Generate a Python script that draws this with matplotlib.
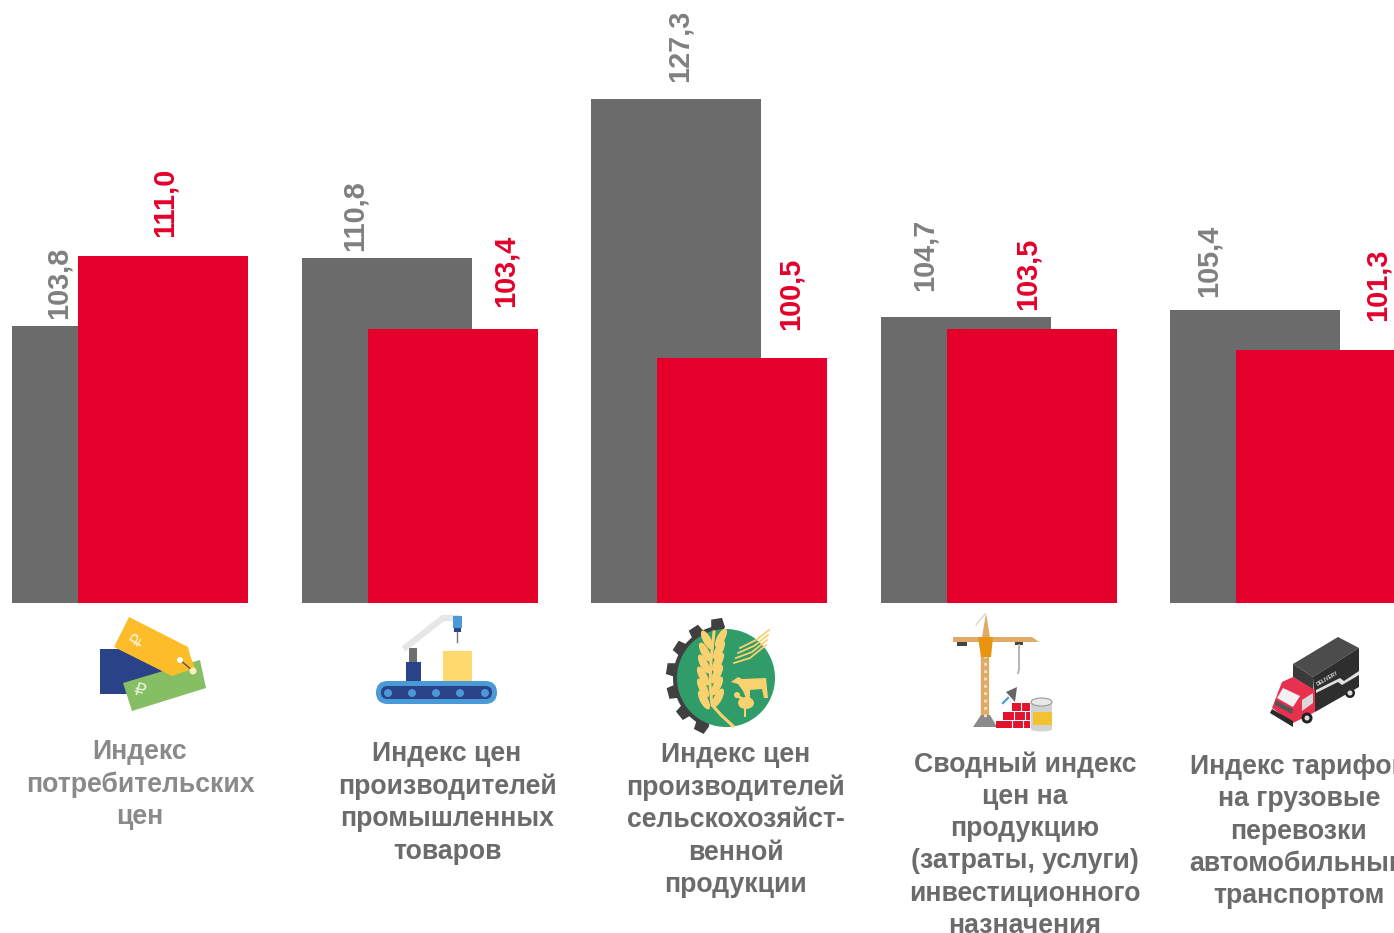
import matplotlib
matplotlib.use("Agg")
import numpy as np
import matplotlib.pyplot as plt
from matplotlib.patches import Polygon, Rectangle, Circle, Ellipse, FancyBboxPatch

plt.rcParams['font.family'] = ['Liberation Sans', 'DejaVu Sans']

# data
labels = ["Индекс\nпотребительских\nцен",
          "Индекс цен\nпроизводителей\nпромышленных\nтоваров",
          "Индекс цен\nпроизводителей\nсельскохозяйст-\nвенной\nпродукции",
          "Сводный индекс\nцен на\nпродукцию\n(затраты, услуги)\nинвестиционного\nназначения",
          "Индекс тарифов\nна грузовые\nперевозки\nавтомобильным\nтранспортом"]
grey_vals = [103.8, 110.8, 127.3, 104.7, 105.4]
red_vals = [111.0, 103.4, 100.5, 103.5, 101.3]

GREY = '#6b6b6b'
RED = '#e4002b'
W, H = 1394, 933
base = 75.1

fig = plt.figure(figsize=(W / 100, H / 100), dpi=100)

# bars, one x unit is one group
ax = fig.add_axes([0, 0, 1, 1])
x = np.arange(len(grey_vals))
width = 0.587
shift = 0.114
ax.bar(x - shift, np.array(grey_vals) - base, width, bottom=base, color=GREY, zorder=2)
ax.bar(x + shift, np.array(red_vals) - base, width, bottom=base, color=RED, zorder=3)
ax.set_xlim(-0.4503, 4.3647)
ax.set_ylim(40.94, 137.5)
ax.axis('off')

# everything else is placed in picture pixels
ov = fig.add_axes([0, 0, 1, 1])
ov.set_xlim(0, W)
ov.set_ylim(H, 0)
ov.axis('off')
ov.patch.set_alpha(0)

# value labels are hand placed in the original
grey_pos = [(59, 319), (355, 251), (680, 82), (925, 291), (1209, 297)]
red_pos = [(165, 237), (506, 307), (791, 330), (1028, 310), (1378, 321)]
fmt = lambda v: f"{v:.1f}".replace('.', ',')
for v, (px, py) in zip(grey_vals, grey_pos):
    ov.text(px, py, fmt(v), rotation=90, ha='center', va='bottom', fontsize=20.8,
            fontweight='bold', color='#808080')
for v, (px, py) in zip(red_vals, red_pos):
    ov.text(px, py, fmt(v), rotation=90, ha='center', va='bottom', fontsize=20.8,
            fontweight='bold', color=RED)

# category captions
cap_pos = [(140, 739), (447, 741), (736, 742), (1025, 751), (1299, 754)]
cap_col = ['#8a8a8a', '#6b6b6b', '#6b6b6b', '#6b6b6b', '#6b6b6b']
for s, (px, py), c in zip(labels, cap_pos, cap_col):
    ov.text(px, py, s, ha='center', va='top', multialignment='center', fontsize=19.15,
            fontweight='bold', color=c, linespacing=1.315, clip_on=True)


def poly(pts, c, z=5):
    ov.add_patch(Polygon(pts, closed=True, fc=c, ec='none', zorder=z))


def rect(x0, y0, x1, y1, c, z=5):
    ov.add_patch(Rectangle((x0, y0), x1 - x0, y1 - y0, fc=c, ec='none', zorder=z))


# price tags
poly([(100, 649), (125, 649), (165, 672), (165, 694), (100, 694)], '#2a4288')
poly([(123, 683), (200, 660), (206, 688), (132, 711)], '#86bf63', 6)
poly([(129, 617), (188, 647), (190, 655), (195, 668), (172, 676), (114, 647)], '#fdbc2a', 7)
ov.plot([180, 193], [660, 671], color='#555555', lw=1, zorder=8)
ov.add_patch(Circle((180, 660), 3, fc='white', zorder=9))
ov.add_patch(Circle((193, 671), 3.5, fc='#fdf0c0', zorder=9))
ov.text(138, 641, "\u20bd", rotation=60, fontsize=13, color='#fff3cf', ha='center', va='center',
        zorder=9, family='DejaVu Sans')
ov.text(139, 691, "\u20bd", rotation=-15, fontsize=13, color='#e6f3dc', ha='center', va='center',
        zorder=9, family='DejaVu Sans')

# conveyor
ov.add_patch(FancyBboxPatch((376, 681), 121, 23, boxstyle="round,pad=0,rounding_size=11.5",
                            fc='#4b9ad8', ec='none', zorder=5))
ov.add_patch(FancyBboxPatch((381, 686), 111, 13, boxstyle="round,pad=0,rounding_size=6.5",
                            fc='#2a4288', ec='none', zorder=6))
for cx in (388, 412, 436, 460, 485):
    ov.add_patch(Circle((cx, 693), 4, fc='#4b9ad8', zorder=7))
rect(443, 651, 472, 681, '#ffd86e')
rect(406, 662, 421, 681, '#2a4288')
rect(409, 648, 417, 662, '#6f6f6f')
ov.plot([406, 443, 457], [647, 618, 618], color='#e6e6e6', lw=4.5, solid_joinstyle='miter', zorder=5)
rect(453, 616, 462, 628, '#4b9ad8', 6)
rect(454, 628, 461, 632, '#2a4288', 6)
ov.plot([457, 457], [632, 642], color='#777777', lw=1, zorder=6)

# agriculture badge: gear on the left only, green disc, wheat, cow, hen
GOLD = '#f9d26f'
gx, gy = 726, 678
arc = np.radians(np.linspace(92, 250, 40))
ring = [(gx + 53 * np.cos(a), gy - 53 * np.sin(a)) for a in arc]
poly(ring + [(gx, gy)], '#404040', 4)
for deg in (99, 123, 147, 171, 195, 219, 243):
    a = np.radians(deg)
    d = np.array([np.cos(a), -np.sin(a)])
    n = np.array([-d[1], d[0]])
    c0 = np.array([gx, gy]) + d * 50
    c1 = np.array([gx, gy]) + d * 60
    poly([c0 + n * 7, c1 + n * 5.5, c1 - n * 5.5, c0 - n * 7], '#404040', 4)
ov.add_patch(Circle((gx, gy), 49, fc='#2f9c6a', zorder=5))
stem_x = [714, 711, 710, 712, 722, 733]
stem_y = [632, 660, 685, 705, 716, 726]
ov.plot(stem_x, stem_y, color=GOLD, lw=2.2, zorder=6)
for sx, sy in zip([714, 712, 711, 710, 710, 711], [640, 652, 664, 676, 688, 700]):
    ov.add_patch(Ellipse((sx - 7, sy), 21, 8, angle=62, fc=GOLD, ec='none', zorder=6))
    ov.add_patch(Ellipse((sx + 7, sy - 2), 21, 8, angle=-62, fc=GOLD, ec='none', zorder=6))
for off in range(4):
    ov.plot([734 + off * 2, 750 + off * 2, 766 + off],
            [663 - off * 5, 658 - off * 6, 645 - off * 5], color=GOLD, lw=1.3, zorder=6)
poly([(731, 682), (738, 677), (742, 679), (766, 678), (768, 698), (764, 698), (762, 689),
      (750, 690), (750, 698), (746, 698), (743, 691), (738, 684)], GOLD, 6)
ov.add_patch(Ellipse((746, 703), 16, 12, fc=GOLD, ec='none', zorder=6))
ov.add_patch(Circle((737, 695), 3, fc=GOLD, zorder=6))
ov.plot([741, 737], [698, 696], color=GOLD, lw=2, zorder=6)
ov.plot([745, 745], [708, 716], color=GOLD, lw=1.5, zorder=6)

# crane with bricks and paint tin
CR = '#e0ab66'
ov.plot([985, 985], [655, 718], color=CR, lw=6, zorder=5)
ov.plot([985, 985], [655, 718], color='#f6e3c6', lw=2, ls=':', zorder=6)
poly([(953, 637), (1032, 637), (1039, 642), (953, 642)], CR)
poly([(986, 613), (982, 637), (990, 637)], CR)
ov.plot([976, 985], [625, 614], color='#cfcfcf', lw=0.8, zorder=5)
poly([(978, 637), (993, 637), (991, 657), (981, 657)], '#e8940f', 6)
rect(957, 642, 967, 646, '#444444')
rect(1015, 642, 1023, 645, '#444444')
ov.plot([1019, 1019, 1018], [645, 670, 673], color='#b5b5b5', lw=1.4, zorder=5)
poly([(973, 727), (981, 715), (990, 715), (997, 727)], '#8a8a8a')
rect(996, 721, 1030, 728, '#e2132f')
rect(1003, 712, 1030, 719.5, '#e2132f')
rect(1012, 703, 1030, 710.5, '#e2132f')
for bx, y0, y1 in [(1012, 721, 728), (1023, 721, 728), (1014, 712, 719.5), (1025, 712, 719.5),
                   (1021, 703, 710.5)]:
    ov.plot([bx, bx], [y0, y1], color='white', lw=0.8, zorder=6)
poly([(1006, 692), (1017, 687), (1015, 702)], '#666666')
ov.plot([1003, 1008], [703, 698], color='#4b9ad8', lw=1.6, zorder=5)
rect(1031, 702, 1052, 729, '#d2d2d2')
rect(1033, 712, 1052, 725, '#f2c230', 6)
ov.add_patch(Ellipse((1041.5, 702), 21, 8, fc='#e8e8e8', ec='#9a9a9a', lw=0.8, zorder=7))
ov.add_patch(Ellipse((1041.5, 729), 21, 5, fc='#d2d2d2', ec='none', zorder=4))

# delivery truck
poly([(1293, 664), (1338, 637), (1359, 648), (1313, 677)], '#4c4c4c')
poly([(1313, 677), (1359, 648), (1359, 687), (1315, 712)], '#2e2e2e')
poly([(1293, 664), (1313, 677), (1313, 690), (1293, 677)], '#3a3a3a')
poly([(1316, 690), (1340, 678), (1344, 681), (1359, 671), (1359, 675), (1342, 685), (1338, 682),
      (1316, 693)], '#e0e0e0', 6)
ov.text(1327, 679, "DELIVERY", rotation=30, fontsize=3.5, color='#dddddd', ha='center',
        va='center', fontweight='bold', zorder=6)
ov.add_patch(Circle((1350, 693), 5, fc='#222222', zorder=4))
ov.add_patch(Circle((1350, 693), 2.5, fc='#dddddd', zorder=7))
poly([(1282, 682), (1293, 677), (1315, 690), (1315, 712), (1293, 723), (1272, 708)], '#e8304f', 6)
poly([(1277, 698), (1283, 688), (1300, 696), (1293, 707)], '#f2f2f2', 7)
poly([(1275, 700), (1293, 709), (1292, 714), (1275, 705)], '#555555', 7)
poly([(1302, 700), (1313, 693), (1313, 703), (1302, 711)], '#d9d9d9', 7)
poly([(1270, 713), (1272, 709), (1293, 721), (1293, 727)], '#2a2a2a', 7)
ov.add_patch(Circle((1307, 718), 5.5, fc='#222222', zorder=8))
ov.add_patch(Circle((1307, 718), 2.5, fc='#dddddd', zorder=9))

fig.savefig('out.png', dpi=100)
